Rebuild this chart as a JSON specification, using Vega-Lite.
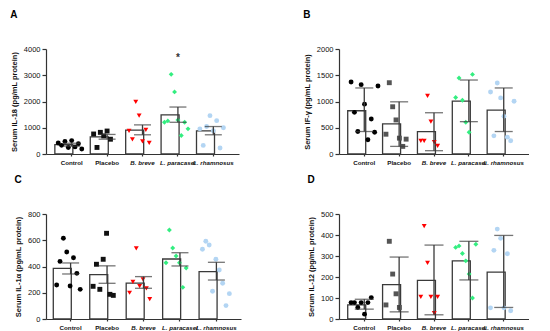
{
  "$schema": "https://vega.github.io/schema/vega-lite/v6.json",
  "padding": {"left": 10, "top": 10, "right": 0, "bottom": 0},
  "background": "white",
  "datasets": {
    "pts": [
      {"panel": "A", "group": "Control", "id": 1, "value": 420},
      {"panel": "A", "group": "Control", "id": 2, "value": 330},
      {"panel": "A", "group": "Control", "id": 3, "value": 480},
      {"panel": "A", "group": "Control", "id": 4, "value": 250},
      {"panel": "A", "group": "Control", "id": 5, "value": 510},
      {"panel": "A", "group": "Control", "id": 6, "value": 270},
      {"panel": "A", "group": "Control", "id": 7, "value": 390},
      {"panel": "A", "group": "Control", "id": 8, "value": 190},
      {"panel": "A", "group": "Placebo", "id": 1, "value": 762},
      {"panel": "A", "group": "Placebo", "id": 2, "value": 250},
      {"panel": "A", "group": "Placebo", "id": 3, "value": 825},
      {"panel": "A", "group": "Placebo", "id": 4, "value": 688},
      {"panel": "A", "group": "Placebo", "id": 5, "value": 875},
      {"panel": "A", "group": "Placebo", "id": 6, "value": 563},
      {"panel": "A", "group": "B. breve", "id": 1, "value": 880},
      {"panel": "A", "group": "B. breve", "id": 2, "value": 560},
      {"panel": "A", "group": "B. breve", "id": 3, "value": 1990},
      {"panel": "A", "group": "B. breve", "id": 4, "value": 1460},
      {"panel": "A", "group": "B. breve", "id": 5, "value": 480},
      {"panel": "A", "group": "B. breve", "id": 6, "value": 920},
      {"panel": "A", "group": "B. breve", "id": 7, "value": 420},
      {"panel": "A", "group": "L. paracasei", "id": 1, "value": 1208},
      {"panel": "A", "group": "L. paracasei", "id": 2, "value": 1260},
      {"panel": "A", "group": "L. paracasei", "id": 3, "value": 3034},
      {"panel": "A", "group": "L. paracasei", "id": 4, "value": 2366},
      {"panel": "A", "group": "L. paracasei", "id": 5, "value": 1298},
      {"panel": "A", "group": "L. paracasei", "id": 6, "value": 706},
      {"panel": "A", "group": "L. paracasei", "id": 7, "value": 1208},
      {"panel": "A", "group": "L. paracasei", "id": 8, "value": 958},
      {"panel": "A", "group": "L. rhamnosus", "id": 1, "value": 958},
      {"panel": "A", "group": "L. rhamnosus", "id": 2, "value": 328},
      {"panel": "A", "group": "L. rhamnosus", "id": 3, "value": 1046},
      {"panel": "A", "group": "L. rhamnosus", "id": 4, "value": 1460},
      {"panel": "A", "group": "L. rhamnosus", "id": 5, "value": 883},
      {"panel": "A", "group": "L. rhamnosus", "id": 6, "value": 1270},
      {"panel": "A", "group": "L. rhamnosus", "id": 7, "value": 226},
      {"panel": "A", "group": "L. rhamnosus", "id": 8, "value": 1000},

      {"panel": "B", "group": "Control", "id": 1, "value": 1372},
      {"panel": "B", "group": "Control", "id": 2, "value": 793},
      {"panel": "B", "group": "Control", "id": 3, "value": 428},
      {"panel": "B", "group": "Control", "id": 4, "value": 1321},
      {"panel": "B", "group": "Control", "id": 5, "value": 950},
      {"panel": "B", "group": "Control", "id": 6, "value": 271},
      {"panel": "B", "group": "Control", "id": 7, "value": 667},
      {"panel": "B", "group": "Control", "id": 8, "value": 415},
      {"panel": "B", "group": "Control", "id": 9, "value": 1296},
      {"panel": "B", "group": "Placebo", "id": 1, "value": 377},
      {"panel": "B", "group": "Placebo", "id": 2, "value": 1358},
      {"panel": "B", "group": "Placebo", "id": 3, "value": 900},
      {"panel": "B", "group": "Placebo", "id": 4, "value": 649},
      {"panel": "B", "group": "Placebo", "id": 5, "value": 302},
      {"panel": "B", "group": "Placebo", "id": 6, "value": 145},
      {"panel": "B", "group": "Placebo", "id": 7, "value": 283},
      {"panel": "B", "group": "B. breve", "id": 1, "value": 252},
      {"panel": "B", "group": "B. breve", "id": 2, "value": 252},
      {"panel": "B", "group": "B. breve", "id": 3, "value": 1107},
      {"panel": "B", "group": "B. breve", "id": 4, "value": 617},
      {"panel": "B", "group": "B. breve", "id": 5, "value": 226},
      {"panel": "B", "group": "B. breve", "id": 6, "value": 157},
      {"panel": "B", "group": "L. paracasei", "id": 1, "value": 1075},
      {"panel": "B", "group": "L. paracasei", "id": 2, "value": 1447},
      {"panel": "B", "group": "L. paracasei", "id": 3, "value": 1025},
      {"panel": "B", "group": "L. paracasei", "id": 4, "value": 604},
      {"panel": "B", "group": "L. paracasei", "id": 5, "value": 415},
      {"panel": "B", "group": "L. paracasei", "id": 6, "value": 1516},
      {"panel": "B", "group": "L. rhamnosus", "id": 1, "value": 1182},
      {"panel": "B", "group": "L. rhamnosus", "id": 2, "value": 346},
      {"panel": "B", "group": "L. rhamnosus", "id": 3, "value": 1352},
      {"panel": "B", "group": "L. rhamnosus", "id": 4, "value": 1069},
      {"panel": "B", "group": "L. rhamnosus", "id": 5, "value": 717},
      {"panel": "B", "group": "L. rhamnosus", "id": 6, "value": 321},
      {"panel": "B", "group": "L. rhamnosus", "id": 7, "value": 252},
      {"panel": "B", "group": "L. rhamnosus", "id": 8, "value": 1006},

      {"panel": "C", "group": "Control", "id": 1, "value": 259},
      {"panel": "C", "group": "Control", "id": 2, "value": 439},
      {"panel": "C", "group": "Control", "id": 3, "value": 615},
      {"panel": "C", "group": "Control", "id": 4, "value": 510},
      {"panel": "C", "group": "Control", "id": 5, "value": 251},
      {"panel": "C", "group": "Control", "id": 6, "value": 467},
      {"panel": "C", "group": "Control", "id": 7, "value": 348},
      {"panel": "C", "group": "Control", "id": 8, "value": 226},
      {"panel": "C", "group": "Placebo", "id": 1, "value": 249},
      {"panel": "C", "group": "Placebo", "id": 2, "value": 417},
      {"panel": "C", "group": "Placebo", "id": 3, "value": 226},
      {"panel": "C", "group": "Placebo", "id": 4, "value": 455},
      {"panel": "C", "group": "Placebo", "id": 5, "value": 653},
      {"panel": "C", "group": "Placebo", "id": 6, "value": 188},
      {"panel": "C", "group": "Placebo", "id": 7, "value": 180},
      {"panel": "C", "group": "B. breve", "id": 1, "value": 200},
      {"panel": "C", "group": "B. breve", "id": 2, "value": 282},
      {"panel": "C", "group": "B. breve", "id": 3, "value": 539},
      {"panel": "C", "group": "B. breve", "id": 4, "value": 250},
      {"panel": "C", "group": "B. breve", "id": 5, "value": 302},
      {"panel": "C", "group": "B. breve", "id": 6, "value": 234},
      {"panel": "C", "group": "B. breve", "id": 7, "value": 152},
      {"panel": "C", "group": "L. paracasei", "id": 1, "value": 429},
      {"panel": "C", "group": "L. paracasei", "id": 2, "value": 678},
      {"panel": "C", "group": "L. paracasei", "id": 3, "value": 541},
      {"panel": "C", "group": "L. paracasei", "id": 4, "value": 480},
      {"panel": "C", "group": "L. paracasei", "id": 5, "value": 429},
      {"panel": "C", "group": "L. paracasei", "id": 6, "value": 241},
      {"panel": "C", "group": "L. paracasei", "id": 7, "value": 389},
      {"panel": "C", "group": "L. rhamnosus", "id": 1, "value": 531},
      {"panel": "C", "group": "L. rhamnosus", "id": 2, "value": 592},
      {"panel": "C", "group": "L. rhamnosus", "id": 3, "value": 564},
      {"panel": "C", "group": "L. rhamnosus", "id": 4, "value": 211},
      {"panel": "C", "group": "L. rhamnosus", "id": 5, "value": 455},
      {"panel": "C", "group": "L. rhamnosus", "id": 6, "value": 373},
      {"panel": "C", "group": "L. rhamnosus", "id": 7, "value": 272},
      {"panel": "C", "group": "L. rhamnosus", "id": 8, "value": 102},
      {"panel": "C", "group": "L. rhamnosus", "id": 9, "value": 193},

      {"panel": "D", "group": "Control", "id": 1, "value": 78},
      {"panel": "D", "group": "Control", "id": 2, "value": 78},
      {"panel": "D", "group": "Control", "id": 3, "value": 55},
      {"panel": "D", "group": "Control", "id": 4, "value": 78},
      {"panel": "D", "group": "Control", "id": 5, "value": 23},
      {"panel": "D", "group": "Control", "id": 6, "value": 78},
      {"panel": "D", "group": "Control", "id": 7, "value": 102},
      {"panel": "D", "group": "Placebo", "id": 1, "value": 67},
      {"panel": "D", "group": "Placebo", "id": 2, "value": 370},
      {"panel": "D", "group": "Placebo", "id": 3, "value": 214},
      {"panel": "D", "group": "Placebo", "id": 4, "value": 120},
      {"panel": "D", "group": "Placebo", "id": 5, "value": 55},
      {"panel": "D", "group": "B. breve", "id": 1, "value": 105},
      {"panel": "D", "group": "B. breve", "id": 2, "value": 442},
      {"panel": "D", "group": "B. breve", "id": 3, "value": 267},
      {"panel": "D", "group": "B. breve", "id": 4, "value": 105},
      {"panel": "D", "group": "B. breve", "id": 5, "value": 28},
      {"panel": "D", "group": "B. breve", "id": 6, "value": 105},
      {"panel": "D", "group": "L. paracasei", "id": 1, "value": 341},
      {"panel": "D", "group": "L. paracasei", "id": 2, "value": 348},
      {"panel": "D", "group": "L. paracasei", "id": 3, "value": 312},
      {"panel": "D", "group": "L. paracasei", "id": 4, "value": 277},
      {"panel": "D", "group": "L. paracasei", "id": 5, "value": 214},
      {"panel": "D", "group": "L. paracasei", "id": 6, "value": 100},
      {"panel": "D", "group": "L. paracasei", "id": 7, "value": 356},
      {"panel": "D", "group": "L. rhamnosus", "id": 1, "value": 53},
      {"panel": "D", "group": "L. rhamnosus", "id": 2, "value": 327},
      {"panel": "D", "group": "L. rhamnosus", "id": 3, "value": 428},
      {"panel": "D", "group": "L. rhamnosus", "id": 4, "value": 384},
      {"panel": "D", "group": "L. rhamnosus", "id": 5, "value": 53},
      {"panel": "D", "group": "L. rhamnosus", "id": 6, "value": 311},
      {"panel": "D", "group": "L. rhamnosus", "id": 7, "value": 39}
    ],
    "sum": [
      {"panel": "A", "group": "Control", "mean": 355, "lo": 300, "hi": 410},
      {"panel": "A", "group": "Placebo", "mean": 650, "lo": 565, "hi": 745},
      {"panel": "A", "group": "B. breve", "mean": 906, "lo": 732, "hi": 1109},
      {"panel": "A", "group": "L. paracasei", "mean": 1487, "lo": 1208, "hi": 1789},
      {"panel": "A", "group": "L. rhamnosus", "mean": 883, "lo": 732, "hi": 1046},
      {"panel": "B", "group": "Control", "mean": 824, "lo": 428, "hi": 1258},
      {"panel": "B", "group": "Placebo", "mean": 573, "lo": 145, "hi": 994},
      {"panel": "B", "group": "B. breve", "mean": 428, "lo": 63, "hi": 786},
      {"panel": "B", "group": "L. paracasei", "mean": 1006, "lo": 616, "hi": 1409},
      {"panel": "B", "group": "L. rhamnosus", "mean": 836, "lo": 428, "hi": 1258},
      {"panel": "C", "group": "Control", "mean": 386, "lo": 343, "hi": 427},
      {"panel": "C", "group": "Placebo", "mean": 338, "lo": 272, "hi": 405},
      {"panel": "C", "group": "B. breve", "mean": 274, "lo": 234, "hi": 323},
      {"panel": "C", "group": "L. paracasei", "mean": 457, "lo": 404, "hi": 505},
      {"panel": "C", "group": "L. rhamnosus", "mean": 361, "lo": 297, "hi": 432},
      {"panel": "D", "group": "Control", "mean": 67, "lo": 47, "hi": 94},
      {"panel": "D", "group": "Placebo", "mean": 164, "lo": 34, "hi": 295},
      {"panel": "D", "group": "B. breve", "mean": 184, "lo": 20, "hi": 352},
      {"panel": "D", "group": "L. paracasei", "mean": 277, "lo": 186, "hi": 370},
      {"panel": "D", "group": "L. rhamnosus", "mean": 223, "lo": 55, "hi": 398}
    ],
    "star": [
      {"panel": "A", "group": "L. paracasei", "y": 3750, "label": "*"}
    ]
  },
  "columns": 2,
  "spacing": {"row": 9, "column": 62},
  "resolve": {"scale": {"y": "independent", "color": "independent", "x": "independent"}},
  "concat": [
    {
      "title": {"text": "A"},
      "width": 193, "height": 105,
      "layer": [
        {"data": {"name": "sum"}, "transform": [{"filter": "datum.panel == 'A'"}],
         "mark": {"type": "bar", "fill": "white", "stroke": "#3a3a3a", "strokeWidth": 1.3},
         "encoding": {
           "x": {"field": "group", "type": "nominal", "sort": ["Control", "Placebo", "B. breve", "L. paracasei", "L. rhamnosus"], "scale": {"paddingInner": 0.05, "paddingOuter": 0.25}, "title": null},
           "y": {"field": "mean", "type": "quantitative", "title": "Serum IL-18  (pg/mL protein)", "scale": {"domain": [0, 4000], "nice": false}, "axis": {"values": [0, 1000, 2000, 3000, 4000]}}}},
        {"data": {"name": "pts"}, "transform": [{"filter": "datum.panel == 'A'"}],
         "mark": {"type": "point", "filled": true, "opacity": 1},
         "encoding": {
           "x": {"field": "group", "type": "nominal", "sort": ["Control", "Placebo", "B. breve", "L. paracasei", "L. rhamnosus"], "scale": {"paddingInner": 0.05, "paddingOuter": 0.25}, "title": null},
           "xOffset": {"field": "id", "type": "nominal", "scale": {"paddingOuter": 1.2}},
           "y": {"field": "value", "type": "quantitative", "title": "Serum IL-18  (pg/mL protein)", "axis": {"values": [0, 1000, 2000, 3000, 4000]}},
           "shape": {"field": "group", "type": "nominal", "legend": null, "scale": {"domain": ["Control", "Placebo", "B. breve", "L. paracasei", "L. rhamnosus"], "range": ["circle", "square", "triangle-down", "diamond", "circle"]}},
           "color": {"field": "group", "type": "nominal", "legend": null, "scale": {"domain": ["Control", "Placebo", "B. breve", "L. paracasei", "L. rhamnosus"], "range": ["#000000", "#111111", "#ff0000", "#33ee80", "#b3d5f3"]}},
           "size": {"field": "group", "type": "ordinal", "legend": null, "scale": {"domain": ["Control", "Placebo", "B. breve", "L. paracasei", "L. rhamnosus"], "range": [24, 24, 24, 12, 40]}}}},
        {"data": {"name": "sum"}, "transform": [{"filter": "datum.panel == 'A'"}],
         "mark": {"type": "rule", "color": "#3a3a3a", "strokeWidth": 1.3},
         "encoding": {
           "x": {"field": "group", "type": "nominal", "sort": ["Control", "Placebo", "B. breve", "L. paracasei", "L. rhamnosus"], "scale": {"paddingInner": 0.05, "paddingOuter": 0.25}, "title": null},
           "y": {"field": "lo", "type": "quantitative", "title": "Serum IL-18  (pg/mL protein)", "axis": {"values": [0, 1000, 2000, 3000, 4000]}}, "y2": {"field": "hi"}}},
        {"data": {"name": "sum"}, "transform": [{"filter": "datum.panel == 'A'"}, {"fold": ["lo", "hi"], "as": ["end", "v"]}],
         "mark": {"type": "tick", "color": "#3a3a3a", "thickness": 1.3, "size": 17},
         "encoding": {
           "x": {"field": "group", "type": "nominal", "sort": ["Control", "Placebo", "B. breve", "L. paracasei", "L. rhamnosus"], "scale": {"paddingInner": 0.05, "paddingOuter": 0.25}, "title": null},
           "y": {"field": "v", "type": "quantitative", "title": "Serum IL-18  (pg/mL protein)", "axis": {"values": [0, 1000, 2000, 3000, 4000]}}}},
        {"data": {"name": "star"}, "transform": [{"filter": "datum.panel == 'A'"}],
         "mark": {"type": "text", "fontSize": 10, "fontWeight": "bold", "color": "#333", "baseline": "middle", "dy": 2},
         "encoding": {
           "x": {"field": "group", "type": "nominal", "sort": ["Control", "Placebo", "B. breve", "L. paracasei", "L. rhamnosus"], "scale": {"paddingInner": 0.05, "paddingOuter": 0.25}, "title": null},
           "y": {"field": "y", "type": "quantitative", "title": "Serum IL-18  (pg/mL protein)", "axis": {"values": [0, 1000, 2000, 3000, 4000]}},
           "text": {"field": "label"}}}
      ]
    },
    {
      "title": {"text": "B"},
      "width": 190, "height": 105,
      "layer": [
        {"data": {"name": "sum"}, "transform": [{"filter": "datum.panel == 'B'"}],
         "mark": {"type": "bar", "fill": "white", "stroke": "#3a3a3a", "strokeWidth": 1.3},
         "encoding": {
           "x": {"field": "group", "type": "nominal", "sort": ["Control", "Placebo", "B. breve", "L. paracasei", "L. rhamnosus"], "scale": {"paddingInner": 0.05, "paddingOuter": 0.25}, "title": null},
           "y": {"field": "mean", "type": "quantitative", "title": "Serum IF-γ  (pg/mL protein)", "scale": {"domain": [0, 2000], "nice": false}, "axis": {"values": [0, 500, 1000, 1500, 2000]}}}},
        {"data": {"name": "pts"}, "transform": [{"filter": "datum.panel == 'B'"}],
         "mark": {"type": "point", "filled": true, "opacity": 1},
         "encoding": {
           "x": {"field": "group", "type": "nominal", "sort": ["Control", "Placebo", "B. breve", "L. paracasei", "L. rhamnosus"], "scale": {"paddingInner": 0.05, "paddingOuter": 0.25}, "title": null},
           "xOffset": {"field": "id", "type": "nominal", "scale": {"paddingOuter": 1.2}},
           "y": {"field": "value", "type": "quantitative", "title": "Serum IF-γ  (pg/mL protein)", "axis": {"values": [0, 500, 1000, 1500, 2000]}},
           "shape": {"field": "group", "type": "nominal", "legend": null, "scale": {"domain": ["Control", "Placebo", "B. breve", "L. paracasei", "L. rhamnosus"], "range": ["circle", "square", "triangle-down", "diamond", "circle"]}},
           "color": {"field": "group", "type": "nominal", "legend": null, "scale": {"domain": ["Control", "Placebo", "B. breve", "L. paracasei", "L. rhamnosus"], "range": ["#000000", "#555555", "#ff0000", "#33ee80", "#b3d5f3"]}},
           "size": {"field": "group", "type": "ordinal", "legend": null, "scale": {"domain": ["Control", "Placebo", "B. breve", "L. paracasei", "L. rhamnosus"], "range": [24, 24, 24, 12, 40]}}}},
        {"data": {"name": "sum"}, "transform": [{"filter": "datum.panel == 'B'"}],
         "mark": {"type": "rule", "color": "#3a3a3a", "strokeWidth": 1.3},
         "encoding": {
           "x": {"field": "group", "type": "nominal", "sort": ["Control", "Placebo", "B. breve", "L. paracasei", "L. rhamnosus"], "scale": {"paddingInner": 0.05, "paddingOuter": 0.25}, "title": null},
           "y": {"field": "lo", "type": "quantitative", "title": "Serum IF-γ  (pg/mL protein)", "axis": {"values": [0, 500, 1000, 1500, 2000]}}, "y2": {"field": "hi"}}},
        {"data": {"name": "sum"}, "transform": [{"filter": "datum.panel == 'B'"}, {"fold": ["lo", "hi"], "as": ["end", "v"]}],
         "mark": {"type": "tick", "color": "#3a3a3a", "thickness": 1.3, "size": 18},
         "encoding": {
           "x": {"field": "group", "type": "nominal", "sort": ["Control", "Placebo", "B. breve", "L. paracasei", "L. rhamnosus"], "scale": {"paddingInner": 0.05, "paddingOuter": 0.25}, "title": null},
           "y": {"field": "v", "type": "quantitative", "title": "Serum IF-γ  (pg/mL protein)", "axis": {"values": [0, 500, 1000, 1500, 2000]}}}}
      ]
    },
    {
      "title": {"text": "C"},
      "width": 195, "height": 105,
      "layer": [
        {"data": {"name": "sum"}, "transform": [{"filter": "datum.panel == 'C'"}],
         "mark": {"type": "bar", "fill": "white", "stroke": "#3a3a3a", "strokeWidth": 1.3},
         "encoding": {
           "x": {"field": "group", "type": "nominal", "sort": ["Control", "Placebo", "B. breve", "L. paracasei", "L. rhamnosus"], "scale": {"paddingInner": 0.05, "paddingOuter": 0.2}, "title": null},
           "y": {"field": "mean", "type": "quantitative", "title": "Serum IL-1α  (pg/mL protein)", "scale": {"domain": [0, 800], "nice": false}, "axis": {"values": [0, 200, 400, 600, 800]}}}},
        {"data": {"name": "pts"}, "transform": [{"filter": "datum.panel == 'C'"}],
         "mark": {"type": "point", "filled": true, "opacity": 1},
         "encoding": {
           "x": {"field": "group", "type": "nominal", "sort": ["Control", "Placebo", "B. breve", "L. paracasei", "L. rhamnosus"], "scale": {"paddingInner": 0.05, "paddingOuter": 0.2}, "title": null},
           "xOffset": {"field": "id", "type": "nominal", "scale": {"paddingOuter": 1.2}},
           "y": {"field": "value", "type": "quantitative", "title": "Serum IL-1α  (pg/mL protein)", "axis": {"values": [0, 200, 400, 600, 800]}},
           "shape": {"field": "group", "type": "nominal", "legend": null, "scale": {"domain": ["Control", "Placebo", "B. breve", "L. paracasei", "L. rhamnosus"], "range": ["circle", "square", "triangle-down", "diamond", "circle"]}},
           "color": {"field": "group", "type": "nominal", "legend": null, "scale": {"domain": ["Control", "Placebo", "B. breve", "L. paracasei", "L. rhamnosus"], "range": ["#000000", "#111111", "#ff0000", "#33ee80", "#b3d5f3"]}},
           "size": {"field": "group", "type": "ordinal", "legend": null, "scale": {"domain": ["Control", "Placebo", "B. breve", "L. paracasei", "L. rhamnosus"], "range": [24, 24, 24, 12, 40]}}}},
        {"data": {"name": "sum"}, "transform": [{"filter": "datum.panel == 'C'"}],
         "mark": {"type": "rule", "color": "#3a3a3a", "strokeWidth": 1.3},
         "encoding": {
           "x": {"field": "group", "type": "nominal", "sort": ["Control", "Placebo", "B. breve", "L. paracasei", "L. rhamnosus"], "scale": {"paddingInner": 0.05, "paddingOuter": 0.2}, "title": null},
           "y": {"field": "lo", "type": "quantitative", "title": "Serum IL-1α  (pg/mL protein)", "axis": {"values": [0, 200, 400, 600, 800]}}, "y2": {"field": "hi"}}},
        {"data": {"name": "sum"}, "transform": [{"filter": "datum.panel == 'C'"}, {"fold": ["lo", "hi"], "as": ["end", "v"]}],
         "mark": {"type": "tick", "color": "#3a3a3a", "thickness": 1.3, "size": 17},
         "encoding": {
           "x": {"field": "group", "type": "nominal", "sort": ["Control", "Placebo", "B. breve", "L. paracasei", "L. rhamnosus"], "scale": {"paddingInner": 0.05, "paddingOuter": 0.2}, "title": null},
           "y": {"field": "v", "type": "quantitative", "title": "Serum IL-1α  (pg/mL protein)", "axis": {"values": [0, 200, 400, 600, 800]}}}}
      ]
    },
    {
      "title": {"text": "D"},
      "width": 190, "height": 105,
      "layer": [
        {"data": {"name": "sum"}, "transform": [{"filter": "datum.panel == 'D'"}],
         "mark": {"type": "bar", "fill": "white", "stroke": "#3a3a3a", "strokeWidth": 1.3},
         "encoding": {
           "x": {"field": "group", "type": "nominal", "sort": ["Control", "Placebo", "B. breve", "L. paracasei", "L. rhamnosus"], "scale": {"paddingInner": 0.05, "paddingOuter": 0.25}, "title": null},
           "y": {"field": "mean", "type": "quantitative", "title": "Serum IL-12 (pg/mL protein)", "scale": {"domain": [0, 500], "nice": false}, "axis": {"values": [0, 100, 200, 300, 400, 500]}}}},
        {"data": {"name": "pts"}, "transform": [{"filter": "datum.panel == 'D'"}],
         "mark": {"type": "point", "filled": true, "opacity": 1},
         "encoding": {
           "x": {"field": "group", "type": "nominal", "sort": ["Control", "Placebo", "B. breve", "L. paracasei", "L. rhamnosus"], "scale": {"paddingInner": 0.05, "paddingOuter": 0.25}, "title": null},
           "xOffset": {"field": "id", "type": "nominal", "scale": {"paddingOuter": 1.2}},
           "y": {"field": "value", "type": "quantitative", "title": "Serum IL-12 (pg/mL protein)", "axis": {"values": [0, 100, 200, 300, 400, 500]}},
           "shape": {"field": "group", "type": "nominal", "legend": null, "scale": {"domain": ["Control", "Placebo", "B. breve", "L. paracasei", "L. rhamnosus"], "range": ["circle", "square", "triangle-down", "diamond", "circle"]}},
           "color": {"field": "group", "type": "nominal", "legend": null, "scale": {"domain": ["Control", "Placebo", "B. breve", "L. paracasei", "L. rhamnosus"], "range": ["#000000", "#555555", "#ff0000", "#33ee80", "#b3d5f3"]}},
           "size": {"field": "group", "type": "ordinal", "legend": null, "scale": {"domain": ["Control", "Placebo", "B. breve", "L. paracasei", "L. rhamnosus"], "range": [24, 24, 24, 12, 40]}}}},
        {"data": {"name": "sum"}, "transform": [{"filter": "datum.panel == 'D'"}],
         "mark": {"type": "rule", "color": "#3a3a3a", "strokeWidth": 1.3},
         "encoding": {
           "x": {"field": "group", "type": "nominal", "sort": ["Control", "Placebo", "B. breve", "L. paracasei", "L. rhamnosus"], "scale": {"paddingInner": 0.05, "paddingOuter": 0.25}, "title": null},
           "y": {"field": "lo", "type": "quantitative", "title": "Serum IL-12 (pg/mL protein)", "axis": {"values": [0, 100, 200, 300, 400, 500]}}, "y2": {"field": "hi"}}},
        {"data": {"name": "sum"}, "transform": [{"filter": "datum.panel == 'D'"}, {"fold": ["lo", "hi"], "as": ["end", "v"]}],
         "mark": {"type": "tick", "color": "#3a3a3a", "thickness": 1.3, "size": 19},
         "encoding": {
           "x": {"field": "group", "type": "nominal", "sort": ["Control", "Placebo", "B. breve", "L. paracasei", "L. rhamnosus"], "scale": {"paddingInner": 0.05, "paddingOuter": 0.25}, "title": null},
           "y": {"field": "v", "type": "quantitative", "title": "Serum IL-12 (pg/mL protein)", "axis": {"values": [0, 100, 200, 300, 400, 500]}}}}
      ]
    }
  ],
  "config": {
    "view": {"stroke": null},
    "font": "Liberation Sans",
    "axis": {"grid": false, "domainColor": "#333333", "tickColor": "#333333", "labelColor": "#111111", "titleColor": "#111111", "labelFont": "Liberation Sans", "titleFont": "Liberation Sans", "domainWidth": 1.2, "tickWidth": 1.2, "labelOverlap": false},
    "axisY": {"labelFontSize": 7.5, "titleFontSize": 7.5, "titleFontWeight": "bold", "tickSize": 4, "labelPadding": 2, "titlePadding": 5, "format": "d", "labelOverlap": false},
    "axisX": {"labelFontSize": 6.2, "labelFontWeight": "bold", "labelAngle": 0, "tickSize": 2, "labelPadding": 3, "labelOverlap": false,
      "labelFontStyle": {"condition": {"test": "datum.value == 'Control' || datum.value == 'Placebo'", "value": "normal"}, "value": "italic"}},
    "title": {"fontSize": 10, "fontWeight": "bold", "anchor": "start", "frame": "bounds", "offset": 25, "color": "#000000", "font": "Liberation Sans"}
  }
}
